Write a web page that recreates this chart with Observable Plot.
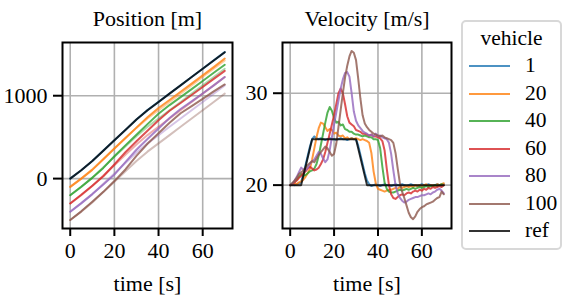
<!DOCTYPE html>
<html><head><meta charset="utf-8">
<script src="https://cdn.jsdelivr.net/npm/d3@7"></script>
<script src="https://cdn.jsdelivr.net/npm/@observablehq/plot@0.6"></script>
<style>
body{margin:0;background:#fff;}
#wrap{position:relative;width:567px;height:304px;overflow:hidden;font-family:"Liberation Serif","Times New Roman",serif;color:#000;}
#wrap svg{position:absolute;top:0;}
.legend{position:absolute;left:461px;top:20px;width:97px;height:226px;border:2px solid #d8d8d8;border-radius:5px;background:#fff;}
.lt{position:absolute;left:0;width:100%;text-align:center;font-size:21.5px;line-height:1;}
.row{position:absolute;left:0;width:100%;height:0;}
.sw{position:absolute;left:6px;width:41px;height:2px;opacity:0.8;}
.lb{position:absolute;left:62px;font-size:21.5px;line-height:1;transform:translateY(-50%);}
</style>
</head><body>
<div id="wrap"></div>
<script>
// ---------- data ----------
const series = ["1", "20", "40", "60", "80", "100", "ref"];
const colors = ["#1f77b4", "#ff7f0e", "#2ca02c", "#d62728", "#9467bd", "#8c564b", "#000000"];

// Position panel, sampled every 5 s
const posTime = [0, 5, 10, 15, 20, 25, 30, 35, 40, 45, 50, 55, 60, 65, 70];
const pos1   = [0, 100, 213, 338, 463, 588, 713, 826, 926, 1026, 1126, 1226, 1326, 1426, 1526];
const pos20  = [-100, 0, 105, 233, 363, 490, 615, 740, 852, 949, 1047, 1146, 1245, 1345, 1448];
const pos40  = [-200, -98, 9, 129, 269, 401, 530, 657, 782, 887, 983, 1080, 1178, 1277, 1374];
const pos60  = [-300, -195, -85, 28, 170, 318, 450, 578, 705, 818, 912, 1008, 1105, 1203, 1300];
const pos80  = [-400, -296, -187, -72, 48, 198, 348, 478, 604, 730, 840, 932, 1027, 1125, 1225];
const pos100 = [-500, -395, -280, -160, -30, 110, 275, 420, 548, 673, 788, 875, 962, 1052, 1136];
const posRef = [0, 100, 212, 337, 462, 587, 712, 825, 925, 1025, 1125, 1225, 1325, 1425, 1525];
// faint (desired) trajectories
const des20  = [-100, 0, 112, 237, 362, 487, 612, 725, 825, 925, 1025, 1125, 1225, 1325, 1425];
const des40  = [-200, -100, 12, 137, 262, 387, 512, 625, 725, 825, 925, 1025, 1125, 1225, 1325];
const des60  = [-300, -200, -88, 37, 162, 287, 412, 525, 625, 725, 825, 925, 1025, 1125, 1225];
const des80  = [-400, -300, -188, -63, 62, 187, 312, 425, 525, 625, 725, 825, 925, 1025, 1125];
const des100 = [-500, -400, -288, -163, -38, 87, 212, 325, 425, 525, 625, 725, 825, 925, 1025];

// Velocity panel, sampled every 1 s (0..70)
const velTime = d3.range(0, 71);
const vel1 = [20.0,20.1,20.0,20.1,20.2,20.3,21.2,22.2,23.2,24.2,25.0,25.3,25.1,25.0,25.1,25.0,24.9,25.0,25.1,25.0,25.0,24.9,25.0,25.1,25.0,25.0,24.9,25.0,25.1,25.0,25.0,24.3,23.3,22.3,21.3,20.5,20.1,19.9,20.0,20.1,20.0,19.9,20.0,20.1,20.0,20.0,19.9,20.0,20.1,20.0,20.0,20.1,20.0,19.9,20.0,20.1,20.0,20.0,19.9,20.0,20.1,20.0,20.0,20.1,20.0,19.9,20.0,20.1,20.0,20.0,20.1];
const vel20 = [20.0,20.1,20.2,20.1,20.3,20.4,20.6,20.9,21.3,21.8,22.8,24.0,25.2,26.2,26.8,26.7,26.3,25.9,26.1,26.0,25.6,25.7,25.4,25.3,25.4,25.1,25.2,25.0,25.1,25.0,25.1,25.0,24.9,25.0,24.9,24.8,24.6,23.5,21.5,20.2,19.6,19.5,19.4,19.3,19.4,19.5,19.5,19.6,19.7,19.6,19.8,19.7,19.8,19.9,19.8,19.9,19.8,20.0,19.9,20.0,19.9,20.0,20.1,19.9,20.0,20.0,19.9,20.1,20.0,20.1,20.2];
const vel40 = [20.0,20.2,20.4,20.6,20.9,21.2,21.0,21.1,21.3,21.5,21.6,21.8,22.3,23.2,24.4,25.6,26.8,27.9,28.5,28.1,27.3,26.8,26.9,26.5,26.6,26.1,26.0,25.8,25.8,25.6,25.5,25.5,25.4,25.3,25.4,25.3,25.2,25.2,25.0,25.0,24.9,24.0,22.0,20.3,19.6,19.3,19.2,19.2,19.3,19.4,19.5,19.4,19.5,19.6,19.5,19.6,19.7,19.6,19.7,19.8,19.7,19.8,19.9,19.8,19.9,19.9,20.0,19.9,20.0,20.1,20.0];
const vel60 = [20.0,20.1,20.3,20.5,20.8,21.0,21.3,21.5,21.8,22.0,21.8,21.6,21.7,21.9,22.3,22.8,23.6,24.6,25.6,26.6,27.6,28.8,30.0,30.5,30.0,28.8,27.5,26.8,26.6,26.4,26.0,25.9,25.8,25.6,25.6,25.5,25.4,25.5,25.3,25.3,25.2,25.1,24.8,23.8,21.8,20.0,19.0,18.6,18.5,18.7,18.9,19.0,18.9,19.1,19.2,19.1,19.3,19.4,19.3,19.5,19.4,19.6,19.5,19.7,19.6,19.8,19.7,19.8,19.9,19.8,20.0];
const vel80 = [20.0,20.2,20.5,20.9,21.4,21.9,21.7,21.6,21.9,22.3,22.6,22.8,23.2,23.6,23.4,22.9,22.5,22.8,23.8,25.2,26.6,27.9,29.2,30.5,31.5,32.2,32.3,31.8,30.0,28.0,27.0,26.5,26.2,25.9,25.7,25.6,25.4,25.5,25.3,25.6,25.3,25.4,25.2,25.1,25.0,24.6,23.4,21.6,20.0,19.1,18.6,18.3,18.1,18.2,18.4,18.5,18.6,18.7,18.7,18.8,18.9,18.9,19.0,19.1,19.0,19.2,19.3,19.5,19.6,19.4,19.1];
const vel100 = [20.0,20.2,20.5,20.8,21.2,21.4,21.6,21.9,22.2,22.4,22.6,22.5,22.9,23.3,23.6,23.9,24.2,24.0,23.6,23.2,23.4,24.5,26.3,28.2,30.0,31.7,33.0,34.0,34.6,34.4,33.6,31.6,29.4,27.6,26.7,26.3,26.0,25.8,25.6,25.5,25.4,25.3,25.4,25.2,25.1,25.0,24.9,24.6,23.5,21.8,20.2,19.3,18.6,17.8,17.0,16.5,16.3,16.6,17.1,17.4,17.6,17.7,17.9,18.0,18.1,18.2,18.4,18.6,18.7,19.3,19.0];
const refVelTime = [0, 5, 10, 30, 35, 70];
const refVel = [20, 20, 25, 25, 20, 20];

// ---------- tables ----------
function rows(ts, vs, s) { return ts.map((t, i) => ({t, v: vs[i], s})); }
const posRows = [
  ...rows(posTime, pos1, "1"), ...rows(posTime, pos20, "20"), ...rows(posTime, pos40, "40"),
  ...rows(posTime, pos60, "60"), ...rows(posTime, pos80, "80"), ...rows(posTime, pos100, "100"),
  ...rows(posTime, posRef, "ref")
];
const desRows = [
  ...rows(posTime, des20, "20"), ...rows(posTime, des40, "40"), ...rows(posTime, des60, "60"),
  ...rows(posTime, des80, "80"), ...rows(posTime, des100, "100")
];
const velRows = [
  ...rows(velTime, vel1, "1"), ...rows(velTime, vel20, "20"), ...rows(velTime, vel40, "40"),
  ...rows(velTime, vel60, "60"), ...rows(velTime, vel80, "80"), ...rows(velTime, vel100, "100"),
  ...rows(refVelTime, refVel, "ref")
];

const xTicks = [0, 20, 40, 60];
const xLabel = "time [s]";
const font = '"Liberation Serif", "Times New Roman", serif';
const FS = "22px";

function panel({width, ml, mr, yDomain, yTicks, title, data, ghost}) {
  const marks = [
    Plot.gridX(xTicks, {stroke: "#b0b0b0", strokeOpacity: 1, strokeWidth: 1.6}),
    Plot.gridY(yTicks, {stroke: "#b0b0b0", strokeOpacity: 1, strokeWidth: 1.6})
  ];
  if (ghost) marks.push(Plot.line(ghost, {x: "t", y: "v", z: "s", stroke: "s", strokeWidth: 2, strokeOpacity: 0.38}));
  marks.push(
    Plot.line(data, {x: "t", y: "v", z: "s", stroke: "s", strokeWidth: 2, strokeOpacity: 0.8}),
    Plot.frame({stroke: "black", strokeWidth: 2}),
    Plot.axisX({ticks: xTicks, tickSize: 8, tickPadding: 6, strokeWidth: 2, fontSize: FS, tickFormat: "d", label: null}),
    Plot.axisY({ticks: yTicks, tickSize: 9, tickPadding: 6, strokeWidth: 2, fontSize: FS, tickFormat: "d", label: null}),
    Plot.text([title], {text: d => d, frameAnchor: "top", lineAnchor: "middle", dy: -24, fontSize: FS, fill: "black"}),
    Plot.text([xLabel], {text: d => d, frameAnchor: "bottom", lineAnchor: "middle", dy: 55, fontSize: FS, fill: "black"})
  );
  return Plot.plot({
    width, height: 304, marginLeft: ml, marginRight: mr, marginTop: 42, marginBottom: 76,
    style: {fontFamily: font, fontSize: FS, color: "black", background: "transparent", overflow: "visible"},
    x: {domain: [-3.5, 73.5]},
    y: {domain: yDomain},
    color: {domain: series, range: colors},
    marks
  });
}

const wrap = document.getElementById("wrap");
const left = panel({width: 240, ml: 62, mr: 8, yDomain: [-602, 1642], yTicks: [0, 1000],
  title: "Position [m]", data: posRows, ghost: desRows});
left.style.left = "0px";
const right = panel({width: 230, ml: 50, mr: 11, yDomain: [15.28, 35.52], yTicks: [20, 30],
  title: "Velocity [m/s]", data: velRows});
right.style.left = "232px";
wrap.appendChild(left);
wrap.appendChild(right);

// ---------- legend ----------
const lg = document.createElement("div");
lg.className = "legend";
const lt = document.createElement("div");
lt.className = "lt"; lt.textContent = "vehicle"; lt.style.top = "6px";
lg.appendChild(lt);
series.forEach((s, i) => {
  const r = document.createElement("div");
  r.className = "row";
  r.style.top = Math.round(44 + i * 27.5) + "px";
  const sw = document.createElement("div");
  sw.className = "sw"; sw.style.background = colors[i]; sw.style.top = "-1px";
  const lb = document.createElement("div");
  lb.className = "lb"; lb.textContent = s;
  r.appendChild(sw); r.appendChild(lb);
  lg.appendChild(r);
});
wrap.appendChild(lg);
</script>
</body></html>
